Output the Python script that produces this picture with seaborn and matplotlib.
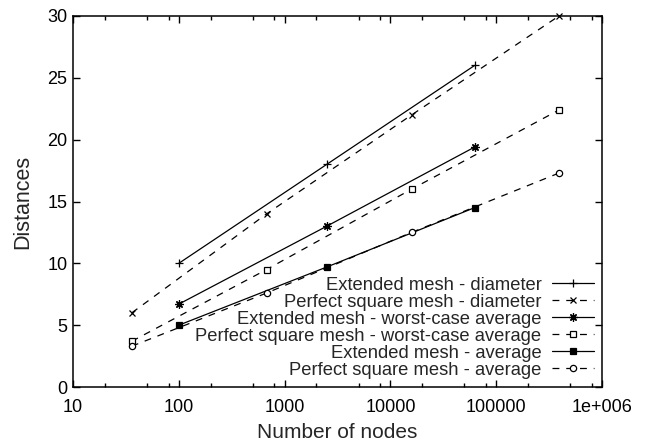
import matplotlib
matplotlib.use("Agg")
import matplotlib.pyplot as plt
import matplotlib.ticker as mticker
import seaborn as sns
import pandas as pd

# ---- data ----
ext_nodes = [100, 2500, 62500]
sq_nodes = [36, 676, 15876, 391876]
ext_diameter = [10, 18, 26]
sq_diameter = [6, 14, 22, 30]
ext_worst_avg = [6.7, 13.0, 19.4]
sq_worst_avg = [3.7, 9.5, 16.0, 22.4]
ext_average = [5.0, 9.7, 14.5]
sq_average = [3.3, 7.6, 12.5, 17.3]

labels = [
    "Extended mesh - diameter",
    "Perfect square mesh - diameter",
    "Extended mesh - worst-case average",
    "Perfect square mesh - worst-case average",
    "Extended mesh - average",
    "Perfect square mesh - average",
]
x_ticks = [10, 100, 1000, 10000, 100000, 1000000]
x_tick_labels = ["10", "100", "1000", "10000", "100000", "1e+006"]
y_ticks = [0, 5, 10, 15, 20, 25, 30]

sns.set_style("ticks")
plt.rcParams["font.family"] = ["Liberation Sans", "DejaVu Sans"]
FS = 13

fig = plt.figure(figsize=(6.52, 4.43), dpi=100)
ax = fig.add_axes([73 / 652, 1 - 387 / 443, (602 - 73) / 652, (387 - 16) / 443])

dash = (0, (5.5, 5.5))
series = [
    (ext_nodes, ext_diameter, "-", "+", "k", 6),
    (sq_nodes, sq_diameter, dash, "x", "k", 4.5),
    (ext_nodes, ext_worst_avg, "-", (8, 2, 0), "k", 6),
    (sq_nodes, sq_worst_avg, dash, "s", "white", 4.5),
    (ext_nodes, ext_average, "-", "s", "k", 4.5),
    (sq_nodes, sq_average, dash, "o", "white", 4.5),
]

for (xs, ys, ls, mk, mfc, ms), lab in zip(series, labels):
    df = pd.DataFrame({"nodes": xs, "dist": ys})
    sns.lineplot(data=df, x="nodes", y="dist", ax=ax, color="black",
                 linestyle=ls, linewidth=0.9, marker=mk, markersize=ms,
                 markerfacecolor=mfc, markeredgecolor="black",
                 markeredgewidth=0.9, label=lab, clip_on=False)

ax.set_xscale("log")
ax.set_xlim(10, 1e6)
ax.set_ylim(0, 30)
ax.xaxis.set_major_locator(mticker.FixedLocator(x_ticks))
ax.xaxis.set_major_formatter(mticker.FixedFormatter(x_tick_labels))
ax.xaxis.set_minor_locator(mticker.LogLocator(base=10, subs=[2, 5, 8]))
ax.xaxis.set_minor_formatter(mticker.NullFormatter())
ax.set_yticks(y_ticks)

ax.tick_params(axis="both", which="both", direction="in", top=True, right=True,
               labelsize=FS, colors="black")
ax.tick_params(axis="x", which="both", pad=9)
ax.tick_params(axis="y", which="both", pad=4)
ax.tick_params(which="major", length=5, width=1)
ax.tick_params(which="minor", length=3, width=1)
for s in ax.spines.values():
    s.set_linewidth(1.1)
    s.set_color("black")

ax.set_xlabel("Number of nodes", fontsize=15, labelpad=5)
ax.set_ylabel("Distances", fontsize=15.5, labelpad=10)

leg = ax.legend(loc="lower right", markerfirst=False, frameon=False,
                fontsize=13.2, handlelength=2.3, handletextpad=0.55,
                labelspacing=0.0, borderaxespad=0.3, borderpad=0.15)

fig.savefig("out.png", dpi=100)
